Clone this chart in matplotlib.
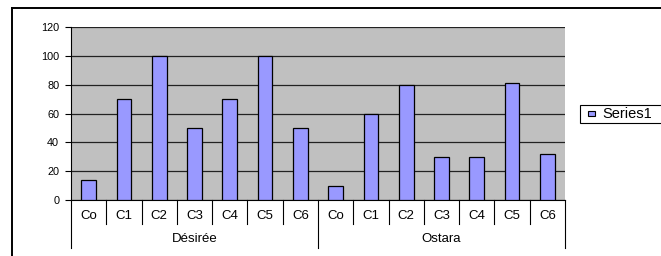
import matplotlib
matplotlib.use("Agg")
import matplotlib.pyplot as plt
from matplotlib.lines import Line2D
from matplotlib.patches import Rectangle
import matplotlib.transforms as mtransforms

plt.rcParams['font.family'] = ['Liberation Sans', 'DejaVu Sans']

groups = ["Désirée", "Ostara"]
categories = ["Co", "C1", "C2", "C3", "C4", "C5", "C6"]
desiree = [14, 70, 100, 50, 70, 100, 50]
ostara = [10, 60, 80, 30, 30, 81, 32]
series_name = "Series1"
yticks = [0, 20, 40, 60, 80, 100, 120]

W, H = 661, 256
fig = plt.figure(figsize=(W / 100, H / 100), dpi=100)
fig.patch.set_facecolor("white")

# outer chart frame (cropped at right and bottom)
fig.add_artist(Line2D([11.5 / W, 11.5 / W], [-0.1, 1 - 8 / H], color="black", lw=1.4, transform=fig.transFigure))
fig.add_artist(Line2D([11.5 / W, 1.1], [1 - 8 / H, 1 - 8 / H], color="black", lw=1.4, transform=fig.transFigure))

left, right, top, bottom = 71, 565, 27, 200
ax = fig.add_axes([left / W, 1 - bottom / H, (right - left) / W, (bottom - top) / H])
ax.set_facecolor("#C0C0C0")

values = desiree + ostara
x = list(range(len(values)))
ax.bar(x, values, width=0.42, color="#9999FF", edgecolor="black", linewidth=0.9, zorder=3)

ax.set_xlim(-0.5, len(values) - 0.5)
ax.set_ylim(0, 120)
ax.set_yticks(yticks)
ax.yaxis.grid(True, color="#222222", linewidth=0.9, zorder=1)
ax.tick_params(axis="y", length=4.5, width=0.8, labelsize=7.8, pad=4, color="black")
ax.set_xticks([])

for s in ["top", "right"]:
    ax.spines[s].set_visible(False)
ax.spines["left"].set_linewidth(0.8)
ax.spines["bottom"].set_linewidth(0.8)

ph = bottom - top
trans = mtransforms.blended_transform_factory(ax.transData, ax.transAxes)
n = len(categories)
for k in range(len(values) + 1):
    xpos = k - 0.5
    y1 = -48 / ph if k % n == 0 else -24 / ph
    ax.add_line(Line2D([xpos, xpos], [0, y1], color="black", lw=0.8, transform=trans, clip_on=False))

for gi, g in enumerate(groups):
    for ci, c in enumerate(categories):
        ax.text(gi * n + ci, -16 / ph, c, transform=trans, ha="center", va="center", fontsize=9.5)
    cx = gi * n + (n - 1) / 2
    ax.text(cx, -39 / ph, g, transform=trans, ha="center", va="center", fontsize=9.5)

# legend box
fig.add_artist(Rectangle((579.5 / W, 1 - 123 / H), 100 / W, 18 / H, facecolor="white", edgecolor="black",
                         lw=0.8, transform=fig.transFigure))
fig.add_artist(Rectangle((587.5 / W, 1 - 116 / H), 7 / W, 5.5 / H, facecolor="#9999FF", edgecolor="black",
                         lw=0.8, transform=fig.transFigure))
fig.text(602 / W, 1 - 114 / H, series_name, fontsize=10.5, va="center", ha="left")

fig.savefig("out.png", dpi=100)
